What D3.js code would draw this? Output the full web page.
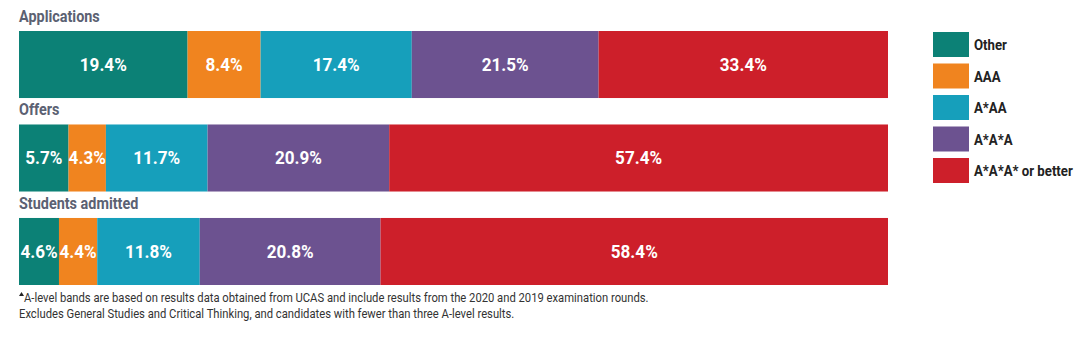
<!DOCTYPE html>
<html>
<head>
<meta charset="utf-8">
<script src="https://cdn.jsdelivr.net/npm/d3@7"></script>
<style>
  body { margin: 0; background: #fff; }
  svg { display: block; font-family: Roboto, "Liberation Sans", sans-serif; }
</style>
</head>
<body>
<div id="chart"></div>
<script>
const categories = ["Other", "AAA", "A*AA", "A*A*A", "A*A*A* or better"];
const groups = ["Applications", "Offers", "Students admitted"];
const applications = [19.4, 8.4, 17.4, 21.5, 33.4];
const offers = [5.7, 4.3, 11.7, 20.9, 57.4];
const admitted = [4.6, 4.4, 11.8, 20.8, 58.4];
const colors = ["#0c8176", "#f0841f", "#169fbb", "#6c5290", "#cd1f2a"];
const footnotes = [
    "A-level bands are based on results data obtained from UCAS and include results from the 2020 and 2019 examination rounds.",
    "Excludes General Studies and Critical Thinking, and candidates with fewer than three A-level results."
];

// the original uses a narrow face, so squeeze text horizontally
const place = (x, y, k) => `translate(${x},${y}) scale(${k},1)`;

function drawChart() {
    const width = 1080, height = 337;

    const rows = [applications, offers, admitted].map((vals, i) => {
        const row = { group: groups[i] };
        categories.forEach((c, j) => row[c] = vals[j]);
        return row;
    });

    const svg = d3.select("#chart").append("svg")
        .attr("width", width)
        .attr("height", height);

    // Scales
    const x = d3.scaleLinear()
        .domain([0, 100])
        .range([19, 888])
        .clamp(true);

    const y = d3.scaleBand()
        .domain(groups)
        .range([31, 285])
        .paddingInner(0.283);

    const color = d3.scaleOrdinal()
        .domain(categories)
        .range(colors);

    const stacked = d3.stack().keys(categories)(rows);

    // Group titles
    svg.selectAll("text.title")
        .data(groups)
        .enter()
        .append("text")
        .attr("class", "title")
        .attr("transform", d => place(19, y(d) - 9, 0.9))
        .attr("fill", "#5b6172")
        .style("font-size", "16px")
        .style("font-weight", "bold")
        .text(d => d);

    // Bars
    const layer = svg.selectAll("g.layer")
        .data(stacked)
        .enter()
        .append("g")
        .attr("class", "layer")
        .attr("fill", d => color(d.key));

    layer.selectAll("rect")
        .data(d => d)
        .enter()
        .append("rect")
        .attr("x", d => x(d[0]))
        .attr("y", d => y(d.data.group))
        .attr("width", d => x(d[1]) - x(d[0]))
        .attr("height", y.bandwidth());

    layer.selectAll("text")
        .data(d => d.map(v => ({ v, key: d.key })))
        .enter()
        .append("text")
        .attr("transform", d => place((x(d.v[0]) + x(d.v[1])) / 2, y(d.v.data.group) + y.bandwidth() / 2, 0.95))
        .attr("dy", "0.36em")
        .attr("text-anchor", "middle")
        .attr("fill", "#fff")
        .style("font-size", "18px")
        .style("font-weight", "bold")
        .text(d => d.v.data[d.key].toFixed(1) + "%");

    // Legend
    const legend = svg.append("g")
        .attr("transform", "translate(933, 32)");

    categories.forEach((c, i) => {
        const row = legend.append("g").attr("transform", `translate(0, ${i * 31.5})`);
        row.append("rect").attr("width", 36).attr("height", 25).attr("fill", color(c));
        row.append("text")
            .attr("transform", place(41, 18, 0.88))
            .attr("fill", "#222")
            .style("font-size", "15px")
            .style("font-weight", "bold")
            .text(c);
    });

    // Footnotes
    const notes = svg.append("g").attr("transform", "translate(19, 302)");
    notes.append("path")
        .attr("d", "M0,-6 L2.5,-10 L5,-6 Z")
        .attr("fill", "#222");
    notes.selectAll("text")
        .data(footnotes)
        .enter()
        .append("text")
        .attr("transform", (d, i) => place(i === 0 ? 5 : 0, i * 16, 0.9))
        .attr("fill", "#333")
        .style("font-size", "12.5px")
        .text(d => d);
}

drawChart();
</script>
</body>
</html>
